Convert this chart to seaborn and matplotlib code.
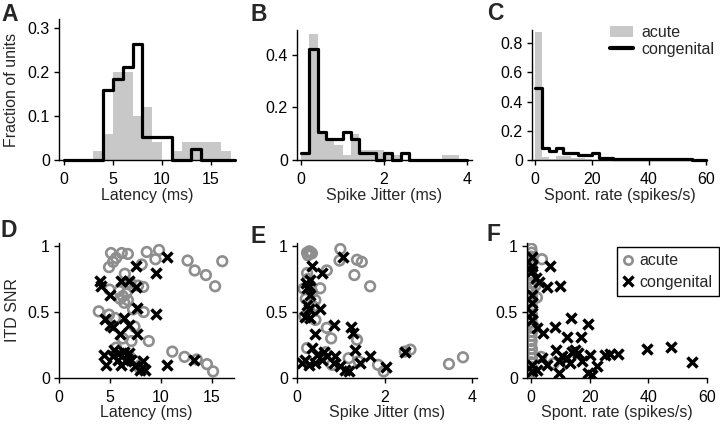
import numpy as np
import pandas as pd
import matplotlib
matplotlib.use("Agg")
import matplotlib.pyplot as plt
import seaborn as sns
from matplotlib.patches import Patch
from matplotlib.lines import Line2D

# ---------------- data ----------------
# Panel A: latency histograms (fraction of units), 1-ms bins
lat_edges = [0, 1, 2, 3, 4, 5, 6, 7, 8, 9, 10, 11, 12, 13, 14, 15, 16, 17, 17.5]
lat_acute = [0, 0, 0, 0.02, 0.06, 0.20, 0.20, 0.10, 0.12, 0.04, 0, 0.02, 0.04, 0.04, 0.04, 0.04, 0.02, 0]
lat_cong = [0, 0, 0, 0, 0.158, 0.184, 0.210, 0.263, 0.053, 0.053, 0.053, 0, 0, 0.026, 0, 0, 0, 0]

# Panel B: spike jitter histograms, 0.2-ms bins
jit_edges = [0.0, 0.2, 0.4, 0.6, 0.8, 1.0, 1.2, 1.4, 1.6, 1.8, 2.0, 2.2, 2.4, 2.6, 2.8, 3.0, 3.2, 3.4, 3.6, 3.8, 4.0]
jit_acute = [0.02, 0.48, 0.10, 0.076, 0.057, 0.019, 0.10, 0.038, 0.038, 0.038, 0.019, 0.019, 0, 0, 0, 0, 0, 0.019, 0.019, 0]
jit_cong = [0.026, 0.421, 0.105, 0.079, 0.079, 0.105, 0.079, 0.026, 0.026, 0, 0.026, 0, 0.026, 0, 0, 0, 0, 0, 0, 0]

# Panel C: spontaneous rate histograms, 2.5 spikes/s bins
spo_edges = [0, 2.5, 5, 7.5, 10, 12.5, 15, 17.5, 20, 22.5, 25, 27.5, 30, 32.5, 35, 37.5,
             40, 42.5, 45, 47.5, 50, 52.5, 55, 57.5, 60]
spo_acute = [0.875, 0.02, 0.01, 0.03, 0.03, 0.015, 0.015, 0.005, 0, 0, 0, 0, 0, 0, 0, 0,
             0, 0, 0, 0, 0, 0, 0, 0]
spo_cong = [0.49, 0.08, 0.062, 0.085, 0.05, 0.05, 0.034, 0.034, 0.046, 0.012, 0.012, 0.008,
            0.008, 0.008, 0.006, 0.008, 0.006, 0.008, 0.006, 0.008, 0.006, 0.006, 0, 0]

# Panel D: latency vs ITD SNR
d_acute_x = [5.1, 5.6, 6.15, 6.75, 4.9, 5.3, 8.6, 9.8, 9.45, 12.6, 13.3, 14.4, 15.3, 16.0, 6.45,
             8.1, 6.6, 8.25, 4.95, 5.9, 6.25, 6.75, 6.4, 3.9, 4.9, 5.5, 7.25, 8.3, 7.4, 6.25,
             8.8, 11.1, 12.3, 13.5, 14.5, 15.1, 5.6, 6.9, 7.9, 7.6, 7.1, 7.75, 6.0, 6.6, 7.0, 8.0]
d_acute_y = [0.947, 0.91, 0.947, 0.94, 0.84, 0.88, 0.955, 0.97, 0.90, 0.89, 0.815, 0.78, 0.695,
             0.885, 0.79, 0.86, 0.72, 0.69, 0.67, 0.66, 0.62, 0.59, 0.57, 0.505, 0.48, 0.455,
             0.52, 0.50, 0.39, 0.30, 0.28, 0.20, 0.16, 0.14, 0.105, 0.05, 0.23, 0.165, 0.075,
             0.125, 0.28, 0.70, 0.60, 0.64, 0.72, 0.10]
d_cong_x = [10.6, 7.5, 9.55, 4.0, 4.1, 6.1, 6.9, 7.5, 4.95, 7.65, 9.5, 4.5, 4.95, 6.4, 6.9, 6.0,
            7.65, 5.3, 4.45, 4.6, 5.4, 5.9, 6.4, 6.9, 6.1, 6.6, 7.1, 7.4, 7.9, 8.4, 8.25, 10.55,
            13.2, 5.3, 5.8]
d_cong_y = [0.917, 0.846, 0.795, 0.737, 0.70, 0.732, 0.737, 0.687, 0.63, 0.53, 0.485, 0.45, 0.40,
            0.455, 0.40, 0.33, 0.336, 0.39, 0.177, 0.10, 0.215, 0.19, 0.20, 0.19, 0.10, 0.126,
            0.14, 0.088, 0.063, 0.063, 0.126, 0.096, 0.134, 0.164, 0.14]

# Panel E: spike jitter vs ITD SNR
e_acute_x = [0.23, 0.3, 0.34, 0.25, 0.28, 0.99, 0.97, 1.37, 1.48, 1.31, 1.67, 0.68, 0.23, 0.15,
             0.53, 0.42, 0.38, 0.17, 0.42, 0.68, 0.78, 0.23, 1.18, 1.41, 1.85, 1.98, 2.46, 2.59,
             3.47, 3.79, 1.37, 0.8, 0.65, 0.2, 0.3, 0.25, 0.35]
e_acute_y = [0.95, 0.955, 0.945, 0.93, 0.96, 0.977, 0.89, 0.896, 0.88, 0.78, 0.695, 0.815, 0.795,
             0.677, 0.68, 0.59, 0.54, 0.467, 0.44, 0.38, 0.30, 0.227, 0.15, 0.126, 0.10, 0.05,
             0.20, 0.215, 0.106, 0.157, 0.29, 0.10, 0.195, 0.60, 0.50, 0.75, 0.65]
e_cong_x = [1.06, 0.34, 0.57, 0.2, 0.27, 0.23, 0.3, 0.3, 0.23, 0.27, 0.53, 0.19, 0.3, 0.4, 0.84,
            1.24, 1.29, 1.33, 1.66, 1.44, 2.04, 2.46, 0.34, 0.19, 0.27, 0.42, 0.11, 0.61, 0.68,
            0.57, 0.87, 0.99, 1.1, 1.18, 0.84, 0.46]
e_cong_y = [0.917, 0.846, 0.795, 0.72, 0.70, 0.68, 0.74, 0.63, 0.555, 0.52, 0.525, 0.46, 0.455,
            0.33, 0.40, 0.39, 0.34, 0.215, 0.17, 0.114, 0.08, 0.20, 0.227, 0.14, 0.10, 0.114,
            0.114, 0.20, 0.164, 0.14, 0.164, 0.088, 0.063, 0.05, 0.114, 0.177]

# Panel F: spontaneous rate vs ITD SNR
f_acute_x = [0.1, 0.2, 0.0, 0.3, 0.1, 0.2, 0.0, 0.3, 0.1, 0.2, 0.0, 0.3, 0.1, 0.2, 0.0, 0.3,
             0.1, 0.2, 0.0, 0.3, 0.1, 0.2, 0.0, 0.3, 0.1, 0.2, 0.0, 0.3, 0.1, 0.2,
             3.7, 2.0, 0.9, 3.4, 1.5, 7.7, 9.8]
f_acute_y = [0.98, 0.95, 0.92, 0.88, 0.85, 0.82, 0.78, 0.75, 0.72, 0.68, 0.65, 0.62, 0.58, 0.55,
             0.52, 0.48, 0.45, 0.42, 0.38, 0.35, 0.32, 0.28, 0.25, 0.22, 0.18, 0.15, 0.12, 0.08,
             0.05, 0.03, 0.90, 0.61, 0.39, 0.16, 0.70, 0.11, 0.083]
f_cong_x = [0.3, 6.5, 1.5, 2.6, 5.4, 9.7, 0.3, 0.3, 0.3, 0.3, 0.3, 0.3, 2.0, 3.95, 8.0, 13.6,
            19.5, 12.2, 17.1, 8.6, 13.9, 15.0, 16.1, 20.1, 25.2, 26.9, 29.5, 39.7, 47.8, 54.8,
            9.4, 10.5, 12.2, 13.3, 9.4, 19.5, 20.7, 22.4, 17.3, 5.4, 0.3, 0.3, 2.0, 3.7]
f_cong_y = [0.92, 0.846, 0.757, 0.73, 0.687, 0.70, 0.846, 0.81, 0.63, 0.57, 0.49, 0.44, 0.38,
            0.34, 0.39, 0.455, 0.41, 0.31, 0.31, 0.215, 0.20, 0.215, 0.19, 0.177, 0.177, 0.18,
            0.184, 0.222, 0.232, 0.119, 0.13, 0.164, 0.15, 0.114, 0.038, 0.038, 0.025, 0.088,
            0.126, 0.10, 0.10, 0.05, 0.063, 0.15]

# ---------------- style ----------------
sns.set_style("ticks")
FS = 11.5      # axis labels / legend
TFS = 11.5     # tick labels
plt.rcParams.update({
    "font.family": ["Liberation Sans", "DejaVu Sans"],
    "font.size": FS,
    "axes.linewidth": 1.0,
    "xtick.major.width": 1.0,
    "ytick.major.width": 1.0,
    "xtick.major.size": 3.6,
    "ytick.major.size": 3.6,
    "xtick.direction": "out",
    "ytick.direction": "out",
    "xtick.color": "black",
    "ytick.color": "black",
    "axes.edgecolor": "black",
    "xtick.major.pad": 5.0,
    "ytick.major.pad": 3,
})

HIST_GRAY = "#c8c8c8"
DOT_GRAY = "#8e8e8e"

W, H = 720, 424
fig = plt.figure(figsize=(7.2, 4.24), dpi=100)


def make_ax(l, t, r, b):
    return fig.add_axes([l / W, 1 - b / H, (r - l) / W, (b - t) / H])


def style(ax):
    for s in ("top", "right"):
        ax.spines[s].set_visible(False)
    ax.tick_params(labelsize=TFS)


def hist_panel(ax, edges, acute, cong):
    edges = [float(e) for e in edges]
    centers = [(a + b) / 2 for a, b in zip(edges[:-1], edges[1:])]
    df = pd.DataFrame({"x": centers, "acute": acute, "cong": cong})
    sns.histplot(data=df, x="x", weights="acute", bins=edges, element="bars", stat="count",
                 color=HIST_GRAY, alpha=1, edgecolor="none", linewidth=0, ax=ax)
    sns.histplot(data=df, x="x", weights="cong", bins=edges, element="step", fill=False,
                 stat="count", color="black", linewidth=2.3, ax=ax, clip_on=False)
    ax.set_ylabel("")


def scatter_panel(ax, ax_x, ax_y, cx, cy):
    sns.scatterplot(x=ax_x, y=ax_y, marker="o", s=48, facecolor="none",
                    edgecolor=DOT_GRAY, linewidth=1.9, ax=ax, zorder=2)
    sns.scatterplot(x=cx, y=cy, marker="x", s=52, color="black",
                    linewidth=2.5, ax=ax, zorder=3)


# ---- A ----
axA = make_ax(59, 19, 235, 160)
hist_panel(axA, lat_edges, lat_acute, lat_cong)
axA.set_xlim(-0.5, 17.45)
axA.set_ylim(0, 0.32)
axA.set_xticks([0, 5, 10, 15])
axA.set_yticks([0, 0.1, 0.2, 0.3], ["0", "0.1", "0.2", "0.3"])
axA.set_xlabel("Latency (ms)", labelpad=1)
style(axA)

# ---- B ----
axB = make_ax(297, 30, 472, 160)
hist_panel(axB, jit_edges, jit_acute, jit_cong)
axB.set_xlim(-0.1, 4.12)
axB.set_ylim(0, 0.495)
axB.set_xticks([0, 2, 4])
axB.set_yticks([0, 0.2, 0.4], ["0", "0.2", "0.4"])
axB.set_xlabel("Spike Jitter (ms)", labelpad=1)
style(axB)

# ---- C ----
axC = make_ax(532, 30, 707, 160)
hist_panel(axC, spo_edges, spo_acute, spo_cong)
axC.set_xlim(-1.05, 60.4)
axC.set_ylim(0, 0.89)
axC.set_xticks([0, 20, 40, 60])
axC.set_yticks([0, 0.2, 0.4, 0.6, 0.8], ["0", "0.2", "0.4", "0.6", "0.8"])
axC.set_xlabel("Spont. rate (spikes/s)", labelpad=1)
style(axC)
axC.legend(handles=[Patch(facecolor=HIST_GRAY, edgecolor="none", label="acute"),
                    Line2D([], [], color="black", lw=3, label="congenital")],
           loc="upper left", bbox_to_anchor=(610 / W, 1 - 25 / H), bbox_transform=fig.transFigure,
           frameon=False, borderpad=0, borderaxespad=0, handlelength=1.45,
           handletextpad=0.5, labelspacing=0.12, fontsize=FS)

# ---- D ----
axD = make_ax(59, 243, 234, 378)
scatter_panel(axD, d_acute_x, d_acute_y, d_cong_x, d_cong_y)
axD.set_xlim(0, 17.15)
axD.set_ylim(0, 1.023)
axD.set_xticks([0, 5, 10, 15])
axD.set_yticks([0, 0.5, 1], ["0", "0.5", "1"])
axD.set_xlabel("Latency (ms)", labelpad=0)
style(axD)

# ---- E ----
axE = make_ax(297, 243, 477, 378)
scatter_panel(axE, e_acute_x, e_acute_y, e_cong_x, e_cong_y)
axE.set_xlim(0, 4.11)
axE.set_ylim(0, 1.023)
axE.set_xticks([0, 2, 4])
axE.set_yticks([0, 0.5, 1], ["0", "0.5", "1"])
axE.set_xlabel("Spike Jitter (ms)", labelpad=0)
style(axE)

# ---- F ----
axF = make_ax(527, 243, 707, 378)
scatter_panel(axF, f_acute_x, f_acute_y, f_cong_x, f_cong_y)
axF.set_xlim(-1.4, 60)
axF.set_ylim(0, 1.023)
axF.set_xticks([0, 20, 40, 60])
axF.set_yticks([0, 0.5, 1], ["0", "0.5", "1"])
axF.set_xlabel("Spont. rate (spikes/s)", labelpad=0)
style(axF)
leg = axF.legend(handles=[Line2D([], [], ls="none", marker="o", ms=6, mfc="none", mec=DOT_GRAY,
                                 mew=1.9, label="acute"),
                          Line2D([], [], ls="none", marker="x", ms=6.5, color="black",
                                 mew=2.4, label="congenital")],
                 loc="upper right", bbox_to_anchor=(718.5 / W, 1 - 247 / H),
                 bbox_transform=fig.transFigure, frameon=True, fancybox=False,
                 edgecolor="black", framealpha=1, borderpad=0.4, borderaxespad=0,
                 handlelength=0.6, handletextpad=0.4, labelspacing=0.4, fontsize=FS)
leg.get_frame().set_linewidth(1.0)

# y labels
fig.text(16 / W, 1 - 90 / H, "Fraction of units", rotation=90, ha="center", va="baseline",
         rotation_mode="anchor", fontsize=FS)
fig.text(17 / W, 1 - 310 / H, "ITD SNR", rotation=90, ha="center", va="baseline",
         rotation_mode="anchor", fontsize=FS)

# panel letters
LFS = 16.5
for lab, x, y in [("A", 1, 3), ("B", 250, 3), ("C", 487, 2),
                  ("D", 1, 219), ("E", 250, 225), ("F", 486, 223)]:
    fig.text(x / W, 1 - y / H, lab, fontsize=LFS, fontweight="bold", ha="left", va="top")

fig.savefig("out.png", dpi=100)
